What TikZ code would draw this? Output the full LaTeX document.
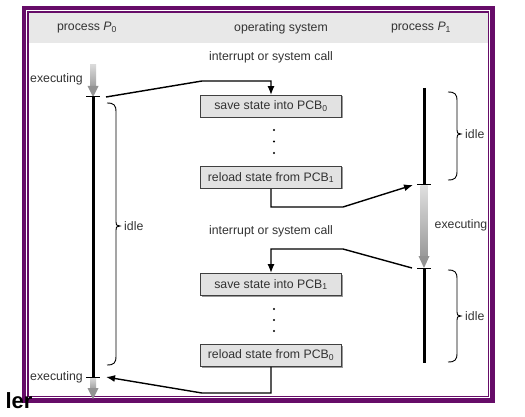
\documentclass[tikz,border=0pt]{standalone}
\usepackage{fontspec}
\setmainfont{Liberation Sans}
\usetikzlibrary{arrows.meta}
\usetikzlibrary{shadows}
\definecolor{framepurple}{RGB}{102,12,104}
\definecolor{headgray}{RGB}{232,232,232}
\definecolor{boxgray}{RGB}{226,226,226}
\tikzset{
  pcbbox/.style = {draw=black!75, fill=boxgray, line width=0.9pt,
    minimum width=141pt, minimum height=22pt, inner sep=0pt,
    general shadow={fill=black!40, shadow xshift=1pt, shadow yshift=-1pt}},
  flow/.style = {line width=1.4pt, -{Latex[length=9pt,width=7pt]}},
  timeline/.style = {line width=3pt},
  idlebrace/.style = {line width=0.9pt},
}

\begin{document}
\begin{tikzpicture}[x=1pt, y=-1pt, font=\fontsize{12.3}{14}\selectfont, text=black!80]
\useasboundingbox[fill=white] (0,0) rectangle (525,417);
% frame and header band
\fill[headgray] (28,12) rectangle (488.5,43);
\draw[framepurple, line width=4.5pt] (24,8) rectangle (492.5,400.5);
\draw[framepurple, line width=1.2pt] (28,12) rectangle (488.5,396.5);
\node (ler) [anchor=base west, text=black, font=\fontsize{22}{24}\selectfont\bfseries] at (2,408) {ler};
\node (hp0) at (87,28) {process \textit{P}\textsubscript{0}};
\node (hos) at (281,28) {operating system};
\node (hp1) at (421,28) {process \textit{P}\textsubscript{1}};

% operating system column
\node (irq0) at (271,57) {interrupt or system call};
\node (irq1) at (271,231) {interrupt or system call};
\node[pcbbox] (save0) at (271,106.5) {save state into PCB\textsubscript{0}};
\node[pcbbox] (reload1) at (271,177.5) {reload state from PCB\textsubscript{1}};
\node[pcbbox] (save1) at (271,284.5) {save state into PCB\textsubscript{1}};
\node[pcbbox] (reload0) at (271,355.5) {reload state from PCB\textsubscript{0}};
\foreach \y in {130,141.5,153,309,320,331}
  \fill (274,\y) circle (1.1);

% time lines
\coordinate (p0top) at (93,97);
\coordinate (p0bot) at (93,377);
\coordinate (p1top) at (424,185);
\coordinate (p1bot) at (424,268);
\draw[timeline] (p0top) -- (p0bot);
\draw[timeline] (424,88) -- (p1top);
\draw[timeline] (p1bot) -- (424,363);

% executing arrows
\shade[top color=gray!30, bottom color=gray!75] (90,65) rectangle (96,87);
\fill[gray!85] (87.5,86) -- (98.5,86) -- (93,97) -- cycle;
\shade[top color=gray!30, bottom color=gray!75] (90,378) rectangle (96,389);
\fill[gray!85] (87.5,388) -- (98.5,388) -- (93,399) -- cycle;
\shade[top color=gray!25, bottom color=gray!80] (420.5,186) rectangle (427.5,257);
\fill[gray!85] (418.5,256) -- (429.5,256) -- (424,268) -- cycle;
\foreach \c in {p0top,p0bot,p1top,p1bot}
  \draw[line width=1pt] ([xshift=-7pt]\c) -- ([xshift=7pt]\c);
\node (exec0) at (56.5,79) {executing};
\node (exec0b) at (56.5,377) {executing};
\node (exec1) at (461,225) {executing};

% idle braces
\foreach \x/\ya/\ym/\yb [count=\i] in {107/103/226/365, 448/92/134/180, 448/270/316/362} {
  \draw[idlebrace] (\x,\ya) .. controls (\x+7,\ya) and (\x+9,\ya+2) .. (\x+9,\ya+9)
    -- (\x+9,\ym-4) .. controls (\x+9,\ym-1) .. (\x+13,\ym)
    .. controls (\x+9,\ym+1) .. (\x+9,\ym+4)
    -- (\x+9,\yb-9) .. controls (\x+9,\yb-2) and (\x+7,\yb) .. (\x,\yb);
  \node[anchor=west, inner sep=0pt] (idle\i) at (\x+17,\ym) {idle};
}

% switches
\draw[flow] ([xshift=13pt]p0top) -- (202,81) -| (save0.north);
\draw[flow] (reload1.south) |- (343,207) -- ([xshift=-11pt]p1top);
\draw[flow] ([xshift=-12pt]p1bot) -- (343,249) -| (save1.north);
\draw[flow] (reload0.south) |- (202,393) -- ([xshift=13pt]p0bot);
\end{tikzpicture}
\end{document}
